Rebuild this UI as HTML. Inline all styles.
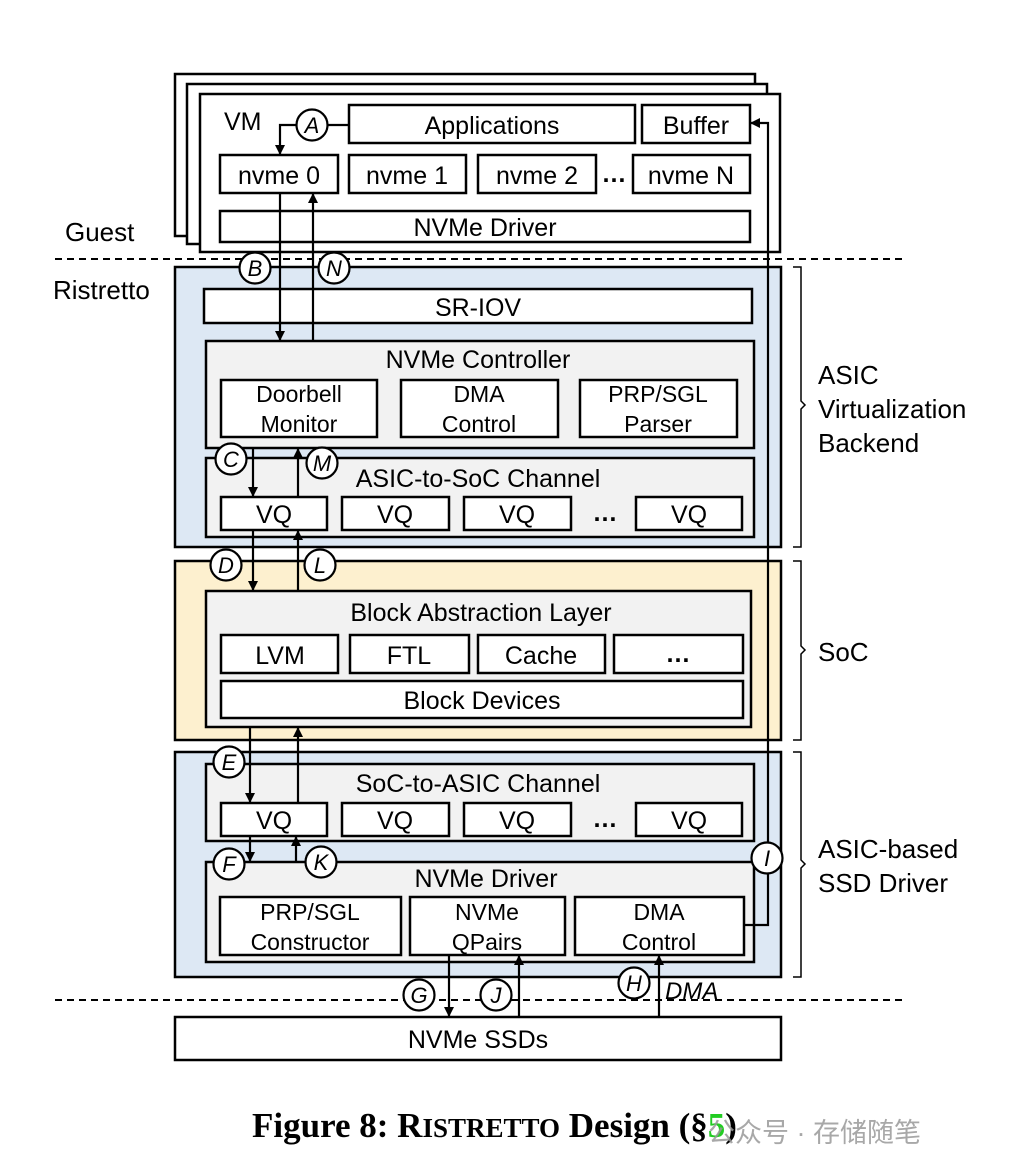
<!DOCTYPE html>
<html><head><meta charset="utf-8"><style>
html,body{margin:0;padding:0;background:#fff;}
svg{display:block;}
text{font-family:"Liberation Sans","DejaVu Sans",sans-serif;font-size:25px;fill:#000;}
.c{text-anchor:middle;}
.s{font-size:23px;}
.side{font-size:26px;}
.lt{font-style:italic;font-size:22px;text-anchor:middle;}
</style></head><body>
<svg width="1016" height="1174" viewBox="0 0 1016 1174" xmlns="http://www.w3.org/2000/svg">
<defs><marker id="ar" markerWidth="10" markerHeight="10" refX="9" refY="5" orient="auto" markerUnits="userSpaceOnUse"><path d="M0,0 L10,5 L0,10z" fill="#000"/></marker></defs>
<g fill="#fff" stroke="#000" stroke-width="2.5">
<rect x="175" y="74" width="580" height="162"/>
<rect x="187" y="84" width="580" height="160"/>
<rect x="200" y="94" width="580" height="158"/>
</g>
<text x="224" y="130">VM</text>
<text class="side" x="65" y="241">Guest</text>
<text class="side" x="53" y="299">Ristretto</text>
<g fill="#fff" stroke="#000" stroke-width="2.5">
<rect x="349" y="105" width="286" height="38"/>
<rect x="642" y="105" width="108" height="38"/>
<rect x="220" y="155" width="118" height="38"/>
<rect x="349" y="155" width="117" height="38"/>
<rect x="478" y="155" width="118" height="38"/>
<rect x="633" y="155" width="117" height="38"/>
<rect x="220" y="211" width="530" height="31"/>
</g>
<text class="c" x="492" y="134">Applications</text>
<text class="c" x="696" y="134">Buffer</text>
<text class="c" x="279" y="184">nvme 0</text>
<text class="c" x="407" y="184">nvme 1</text>
<text class="c" x="537" y="184">nvme 2</text>
<text class="c" x="614" y="182" style="font-weight:bold">…</text>
<text class="c" x="691" y="184">nvme N</text>
<text class="c" x="485" y="236">NVMe Driver</text>
<line x1="55" y1="259" x2="905" y2="259" stroke="#000" stroke-width="2" stroke-dasharray="7,5"/>
<line x1="55" y1="1000" x2="905" y2="1000" stroke="#000" stroke-width="2" stroke-dasharray="7,5"/>
<rect x="175" y="267" width="606" height="280" fill="#dde8f4" stroke="#000" stroke-width="2.5"/>
<rect x="175" y="561" width="606" height="179" fill="#fdf0cf" stroke="#000" stroke-width="2.5"/>
<rect x="175" y="752" width="606" height="225" fill="#dde8f4" stroke="#000" stroke-width="2.5"/>
<g stroke="#000" stroke-width="2.5">
<rect x="204" y="289" width="548" height="34" fill="#fff"/>
<rect x="206" y="341" width="548" height="107" fill="#f2f2f2"/>
<rect x="206" y="458" width="548" height="79" fill="#f2f2f2"/>
<rect x="206" y="591" width="545" height="136" fill="#f2f2f2"/>
<rect x="206" y="764" width="548" height="77" fill="#f2f2f2"/>
<rect x="206" y="862" width="548" height="100" fill="#f2f2f2"/>
<g fill="#fff">
<rect x="221" y="380" width="156" height="57"/><rect x="401" y="380" width="157" height="57"/><rect x="580" y="380" width="157" height="57"/>
<rect x="221" y="497" width="106" height="33"/><rect x="342" y="497" width="107" height="33"/><rect x="464" y="497" width="107" height="33"/><rect x="636" y="497" width="106" height="33"/>
<rect x="221" y="635" width="117" height="38"/><rect x="350" y="635" width="119" height="38"/><rect x="478" y="635" width="127" height="38"/><rect x="614" y="635" width="129" height="38"/>
<rect x="221" y="681" width="522" height="37"/>
<rect x="221" y="803" width="106" height="33"/><rect x="342" y="803" width="107" height="33"/><rect x="464" y="803" width="107" height="33"/><rect x="636" y="803" width="106" height="33"/>
<rect x="220" y="897" width="181" height="58"/><rect x="410" y="897" width="155" height="58"/><rect x="575" y="897" width="169" height="58"/>
<rect x="175" y="1017" width="606" height="43"/>
</g></g>
<text class="c" x="478" y="316">SR-IOV</text>
<text class="c" x="478" y="368">NVMe Controller</text>
<text class="c s" x="299" y="402">Doorbell</text><text class="c s" x="299" y="432">Monitor</text>
<text class="c s" x="479" y="402">DMA</text><text class="c s" x="479" y="432">Control</text>
<text class="c s" x="658" y="402">PRP/SGL</text><text class="c s" x="658" y="432">Parser</text>
<text class="c" x="478" y="487">ASIC-to-SoC Channel</text>
<text class="c" x="274" y="523">VQ</text><text class="c" x="395" y="523">VQ</text><text class="c" x="517" y="523">VQ</text><text class="c" x="605" y="521" style="font-weight:bold">…</text><text class="c" x="689" y="523">VQ</text>
<text class="c" x="481" y="621">Block Abstraction Layer</text>
<text class="c" x="280" y="664">LVM</text><text class="c" x="409" y="664">FTL</text><text class="c" x="541" y="664">Cache</text><text class="c" x="678" y="662" style="font-weight:bold">…</text>
<text class="c" x="482" y="709">Block Devices</text>
<text class="c" x="478" y="792">SoC-to-ASIC Channel</text>
<text class="c" x="274" y="829">VQ</text><text class="c" x="395" y="829">VQ</text><text class="c" x="517" y="829">VQ</text><text class="c" x="605" y="827" style="font-weight:bold">…</text><text class="c" x="689" y="829">VQ</text>
<text class="c" x="486" y="887">NVMe Driver</text>
<text class="c s" x="310" y="920">PRP/SGL</text><text class="c s" x="310" y="950">Constructor</text>
<text class="c s" x="487" y="920">NVMe</text><text class="c s" x="487" y="950">QPairs</text>
<text class="c s" x="659" y="920">DMA</text><text class="c s" x="659" y="950">Control</text>
<text class="c" x="478" y="1048">NVMe SSDs</text>
<g fill="none" stroke="#000" stroke-width="1.5">
<path d="M793,267 h8 v134 l4,4 l-4,4 v138 h-8"/>
<path d="M793,561 h8 v85 l4,4 l-4,4 v86 h-8"/>
<path d="M793,752 h8 v108 l4,4 l-4,4 v109 h-8"/>
</g>
<text class="side" x="818" y="384">ASIC</text><text class="side" x="818" y="418">Virtualization</text><text class="side" x="818" y="452">Backend</text>
<text class="side" x="818" y="661">SoC</text>
<text class="side" x="818" y="858">ASIC-based</text><text class="side" x="818" y="892">SSD Driver</text>
<g stroke="#000" stroke-width="2.2" fill="none">
<path d="M349,125 H280 V154" marker-end="url(#ar)"/>
<path d="M280,193 V340" marker-end="url(#ar)"/>
<path d="M313,341 V194" marker-end="url(#ar)"/>
<path d="M253,448 V496" marker-end="url(#ar)"/>
<path d="M298,497 V449" marker-end="url(#ar)"/>
<path d="M253,530 V590" marker-end="url(#ar)"/>
<path d="M298,591 V531" marker-end="url(#ar)"/>
<path d="M250,727 V802" marker-end="url(#ar)"/>
<path d="M298,803 V728" marker-end="url(#ar)"/>
<path d="M250,836 V861" marker-end="url(#ar)"/>
<path d="M296,862 V837" marker-end="url(#ar)"/>
<path d="M449,955 V1016" marker-end="url(#ar)"/>
<path d="M519,1017 V956" marker-end="url(#ar)"/>
<path d="M659,1017 V956" marker-end="url(#ar)"/>
<path d="M744,925 H768 V123 H751" marker-end="url(#ar)"/>
</g>
<g fill="#fff" stroke="#000" stroke-width="2.2">
<circle cx="312" cy="125" r="15.5"/><circle cx="255" cy="268" r="15.5"/><circle cx="334" cy="268" r="15.5"/>
<circle cx="231" cy="459" r="15.5"/><circle cx="322" cy="463" r="15.5"/><circle cx="226" cy="565" r="15.5"/><circle cx="320" cy="565" r="15.5"/>
<circle cx="229" cy="762" r="15.5"/><circle cx="229" cy="864" r="15.5"/><circle cx="321" cy="862" r="15.5"/><circle cx="767" cy="858" r="15.5"/>
<circle cx="419" cy="995" r="15.5"/><circle cx="496" cy="995" r="15.5"/><circle cx="634" cy="983" r="15.5"/>
</g>
<g>
<text class="lt" x="312" y="133">A</text><text class="lt" x="255" y="276">B</text><text class="lt" x="334" y="276">N</text>
<text class="lt" x="231" y="467">C</text><text class="lt" x="322" y="471">M</text><text class="lt" x="226" y="573">D</text><text class="lt" x="320" y="573">L</text>
<text class="lt" x="229" y="770">E</text><text class="lt" x="229" y="872">F</text><text class="lt" x="321" y="870">K</text><text class="lt" x="767" y="866">I</text>
<text class="lt" x="419" y="1003">G</text><text class="lt" x="496" y="1003">J</text><text class="lt" x="634" y="991">H</text>
</g>
<text x="665" y="999" style="font-style:italic;font-size:24px">DMA</text>
<text x="252" y="1137" style="font-family:'Liberation Serif',serif;font-weight:bold;font-size:35px">Figure 8: R<tspan font-size="27">ISTRETTO</tspan> Design (§<tspan fill="#22cc22">5</tspan>)</text>
<text x="708" y="1142" style="font-family:'Liberation Sans','Noto Sans CJK SC',sans-serif;font-size:27px;fill:#999;opacity:0.85">公众号 · 存储随笔</text>
</svg>
</body></html>
